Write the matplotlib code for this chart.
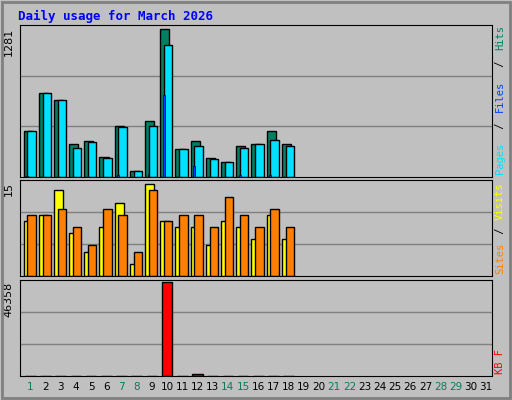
import matplotlib
matplotlib.use('Agg')
import matplotlib.pyplot as plt
from matplotlib.patches import Rectangle

days = list(range(1, 32))
weekend = [1, 7, 8, 14, 15, 21, 22, 28, 29]
hits = [394, 725, 664, 281, 307, 177, 438, 55, 481, 1281, 238, 307, 168, 133, 272, 281, 394, 281]
files = [394, 725, 664, 255, 299, 168, 429, 55, 438, 1142, 238, 264, 159, 133, 255, 281, 316, 264]
pages = [8, 4, 4, 4, 4, 4, 18, 4, 28, 707, 4, 99, 4, 4, 18, 4, 18, 4]
visits = [9, 10, 14, 7, 4, 8, 12, 2, 15, 9, 8, 8, 5, 9, 8, 6, 10, 6]
sites = [10, 10, 11, 8, 5, 11, 10, 4, 14, 9, 10, 10, 8, 13, 10, 8, 11, 8]
kbytes = [150, 150, 150, 150, 150, 150, 150, 150, 150, 46358, 150, 900, 150, 150, 150, 150, 150, 150]

bg = '#C0C0C0'
fig = plt.figure(figsize=(5.12, 4.0), dpi=100, facecolor=bg)
fig.patches.append(Rectangle((0.004, 0.004), 0.992, 0.992, transform=fig.transFigure,
                             fill=False, edgecolor='#808080', lw=2))
fig.text(0.035, 0.975, 'Daily usage for March 2026', color='#0000FF', fontsize=9,
         fontweight='bold', family='DejaVu Sans Mono', va='top')

def panel(rect, ymax, label):
    ax = fig.add_axes(rect)
    ax.set_facecolor(bg)
    ax.set_xlim(0.35, 31.35)
    ax.set_ylim(0, ymax)
    for f in (1/3, 2/3):
        ax.axhline(ymax * f, color='#808080', lw=1, zorder=0)
    ax.set_xticks([])
    ax.set_yticks([])
    for s in ax.spines.values():
        s.set_color('black')
    ax.text(-0.025, 0.98, label, transform=ax.transAxes, rotation=90,
            ha='center', va='top', fontsize=8)
    return ax

ax1 = panel([0.04, 0.5575, 0.92, 0.38], 1314, '1281')
d = days[:len(hits)]
ax1.bar([x - 0.45 for x in d], hits, width=0.6, align='edge', color='#008060', edgecolor='black', lw=1)
ax1.bar([x - 0.2 for x in d], files, width=0.55, align='edge', color='#00E0FF', edgecolor='black', lw=1)
ax1.bar([x - 0.22 for x in d], pages, width=0.12, align='center', color='#0040FF', edgecolor='black', lw=0.5)

ax2 = panel([0.04, 0.31, 0.92, 0.24], 15.7, '15')
ax2.bar([x - 0.45 for x in d], visits, width=0.6, align='edge', color='#FFFF00', edgecolor='black', lw=1)
ax2.bar([x - 0.2 for x in d], sites, width=0.55, align='edge', color='#FF8000', edgecolor='black', lw=1)

ax3 = panel([0.04, 0.06, 0.92, 0.24], 47400, '46358')
ax3.bar([x - 0.35 for x in d], kbytes, width=0.7, align='edge', color='#FF0000', edgecolor='black', lw=1)

for x in days:
    fig.text(0.04 + 0.92 * (x - 0.35) / 31, 0.025, str(x), ha='center', fontsize=7.5,
             color='#00805C' if x in weekend else 'black')

def side(ax, parts, step):
    y = 0.02
    for txt, c in parts:
        ax.text(1.018, y, txt, transform=ax.transAxes, rotation=90, ha='center',
                va='bottom', fontsize=7.5, color=c, family='DejaVu Sans Mono')
        y += len(txt) * step

side(ax1, [('Pages', '#00E0FF'), (' / ', 'black'), ('Files', '#0040FF'), (' / ', 'black'), ('Hits', '#008060')], 0.051)
side(ax2, [('Sites', '#FF8000'), (' / ', 'black'), ('Visits', '#FFFF00')], 0.07)
side(ax3, [('KB F', '#FF0000')], 0.07)

fig.savefig('out.png', dpi=100, facecolor=bg)
